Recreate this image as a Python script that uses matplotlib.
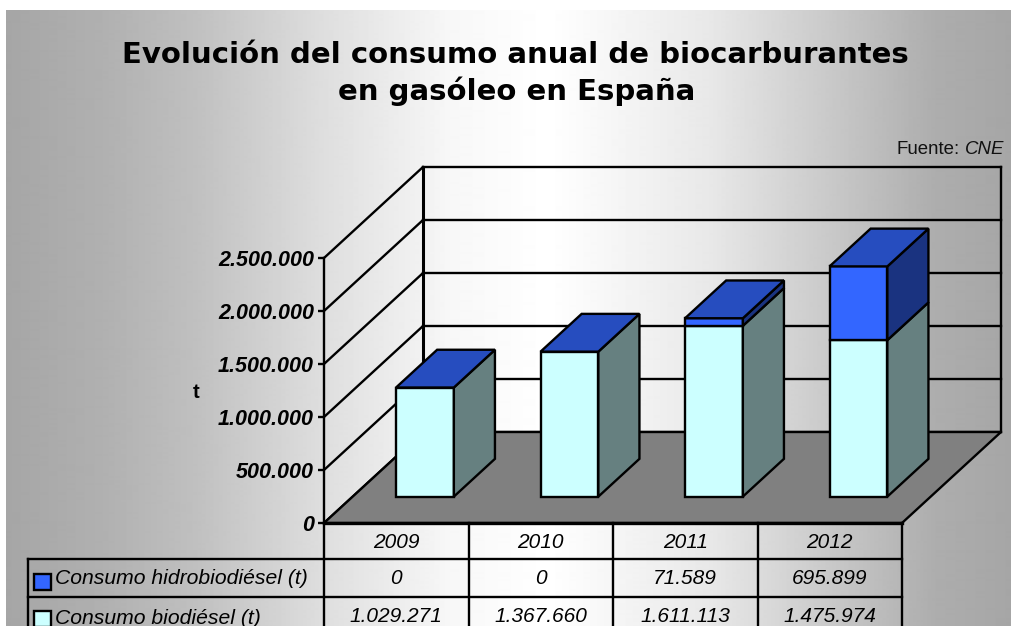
import numpy as np
import matplotlib
matplotlib.use("Agg")
import matplotlib.pyplot as plt
from matplotlib.patches import Polygon

years = ["2009", "2010", "2011", "2012"]
biodiesel = [1029271, 1367660, 1611113, 1475974]
hidro = [0, 0, 71589, 695899]
biodiesel_labels = ["1.029.271", "1.367.660", "1.611.113", "1.475.974"]
hidro_labels = ["0", "0", "71.589", "695.899"]
tick_values = [0, 500000, 1000000, 1500000, 2000000, 2500000]
tick_labels = ["0", "500.000", "1.000.000", "1.500.000", "2.000.000", "2.500.000"]

W, H = 1011, 626
plt.rcParams['font.family'] = ['Liberation Sans', 'DejaVu Sans']
fig = plt.figure(figsize=(W / 100, H / 100), dpi=100, facecolor='white')

# background gradient
bg = fig.add_axes([6 / W, 0, (W - 6) / W, (H - 10) / H])
xs = np.arange(6, W)
stops_x = [6, 100, 193, 322, 451, 548, 710, 838, 935, 1011]
stops_v = [0.65, 0.69, 0.75, 0.87, 0.97, 1.0, 0.91, 0.78, 0.68, 0.65]
bg.imshow(np.interp(xs, stops_x, stops_v)[None, :], cmap='gray', vmin=0, vmax=1,
          aspect='auto', interpolation='bilinear')
bg.axis('off')

# front plane axes
L, R, T, B = 324, 902, 258, 523
ax = fig.add_axes([L / W, (H - B) / H, (R - L) / W, (B - T) / H], facecolor='none')
ax.set_xlim(0, len(years))
ax.set_ylim(0, 2500000)
DEPTH_X = 99 / ((R - L) / len(years))
DEPTH_V = 91 / ((B - T) / 2500000)
LW = 1.7


def proj(x, v, d):
    return (x + d * DEPTH_X, v + d * DEPTH_V)


def poly(points, fc, z):
    ax.add_patch(Polygon([proj(*p) for p in points], closed=True, fc=fc, ec='black',
                         lw=LW, joinstyle='miter', clip_on=False, zorder=z))


def seg(a, b, z=2, lw=LW):
    pa, pb = proj(*a), proj(*b)
    ax.plot([pa[0], pb[0]], [pa[1], pb[1]], color='black', lw=lw, clip_on=False,
            zorder=z, solid_capstyle='projecting')


n = len(years)
for v in tick_values:
    seg((0, v, 0), (0, v, 1))
    seg((0, v, 1), (n, v, 1))
seg((0, 0, 1), (0, 2500000, 1), lw=2.2)
seg((n, 0, 1), (n, 2500000, 1))

poly([(0, 0, 0), (n, 0, 0), (n, 0, 1), (0, 0, 1)], '#808080', 3)
seg((0, 0, 0), (n, 0, 0), z=4, lw=2.4)

# stacked 3D columns
BW = 0.40
D0, D1 = 0.29, 0.705
z = 10
for i in range(n):
    x0 = i + 0.3
    x1 = x0 + BW
    a = biodiesel[i]
    b = a + hidro[i]
    poly([(x0, 0, D0), (x1, 0, D0), (x1, a, D0), (x0, a, D0)], '#CCFFFF', z)
    poly([(x1, 0, D0), (x1, 0, D1), (x1, a, D1), (x1, a, D0)], '#668080', z + 1)
    if hidro[i] > 0:
        poly([(x0, a, D0), (x1, a, D0), (x1, b, D0), (x0, b, D0)], '#3366FF', z + 2)
        poly([(x1, a, D0), (x1, a, D1), (x1, b, D1), (x1, b, D0)], '#1A3380', z + 3)
    poly([(x0, b, D0), (x1, b, D0), (x1, b, D1), (x0, b, D1)], '#264DBF', z + 4)
    z += 5

# axis ticks
for s in ax.spines.values():
    s.set_visible(False)
ax.spines['left'].set_visible(True)
ax.spines['left'].set_linewidth(LW)
ax.set_xticks([])
ax.set_yticks(tick_values)
ax.set_yticklabels(tick_labels, fontsize=15.5, fontweight='bold', fontstyle='italic')
ax.tick_params(axis='y', length=4.2, width=LW, pad=3)
ax.set_ylabel("t", fontsize=14.5, fontweight='bold', rotation=0, labelpad=0)
ax.yaxis.set_label_coords((196 - L) / (R - L), (B - 392) / (B - T))
ax.yaxis.label.set_verticalalignment('center')
ax.yaxis.label.set_horizontalalignment('center')


# data table
def fy(py):
    return (B - py) / (B - T)


def fx(px):
    return (px - L) / (R - L) * n


tr = ax.get_xaxis_transform()
TAB = dict(transform=tr, clip_on=False, color='black', lw=LW, zorder=5)
BOTTOM = 640
for py, left in [(559, fx(28)), (597, fx(28))]:
    ax.plot([left, n], [fy(py), fy(py)], **TAB)
ax.plot([0, 0], [fy(B), fy(BOTTOM)], **TAB)
ax.plot([fx(28), fx(28)], [fy(559), fy(BOTTOM)], **TAB)
for i in range(1, n + 1):
    ax.plot([i, i], [fy(B), fy(BOTTOM)], **TAB)

CELL = dict(transform=tr, ha='center', va='center', fontsize=15, fontstyle='italic', clip_on=False)
for i in range(n):
    ax.text(i + 0.5, fy(543), years[i], **CELL)
    ax.text(i + 0.5, fy(578), hidro_labels[i], **CELL)
    ax.text(i + 0.5, fy(617), biodiesel_labels[i], **CELL)

LEG = dict(transform=tr, ha='left', va='center', fontsize=15.2, fontstyle='italic', clip_on=False)
ax.text(fx(55), fy(579), "Consumo hidrobiodiésel (t)", **LEG)
ax.text(fx(55), fy(618), "Consumo biodiésel (t)", **LEG)
for py, col in [(574, '#3366FF'), (611, '#CCFFFF')]:
    ax.add_patch(plt.Rectangle((fx(34), fy(py + 16)), fx(51) - fx(34), 16 / (B - T), transform=tr,
                               fc=col, ec='black', lw=LW, clip_on=False, zorder=6))

# title and source
fig.text(515 / W, 1 - 55 / H, "Evolución del consumo anual de biocarburantes", ha='center', va='center',
         fontsize=21, fontweight='bold', family='DejaVu Sans')
fig.text(517 / W, 1 - 91 / H, "en gasóleo en España", ha='center', va='center',
         fontsize=21, fontweight='bold', family='DejaVu Sans')
fig.text(960 / W, 1 - 150 / H, "Fuente:", ha='right', va='center', fontsize=13.4, color='#111111')
fig.text(1004 / W, 1 - 150 / H, "CNE", ha='right', va='center', fontsize=13.4, fontstyle='italic', color='#111111')

fig.savefig("out.png", dpi=100)
